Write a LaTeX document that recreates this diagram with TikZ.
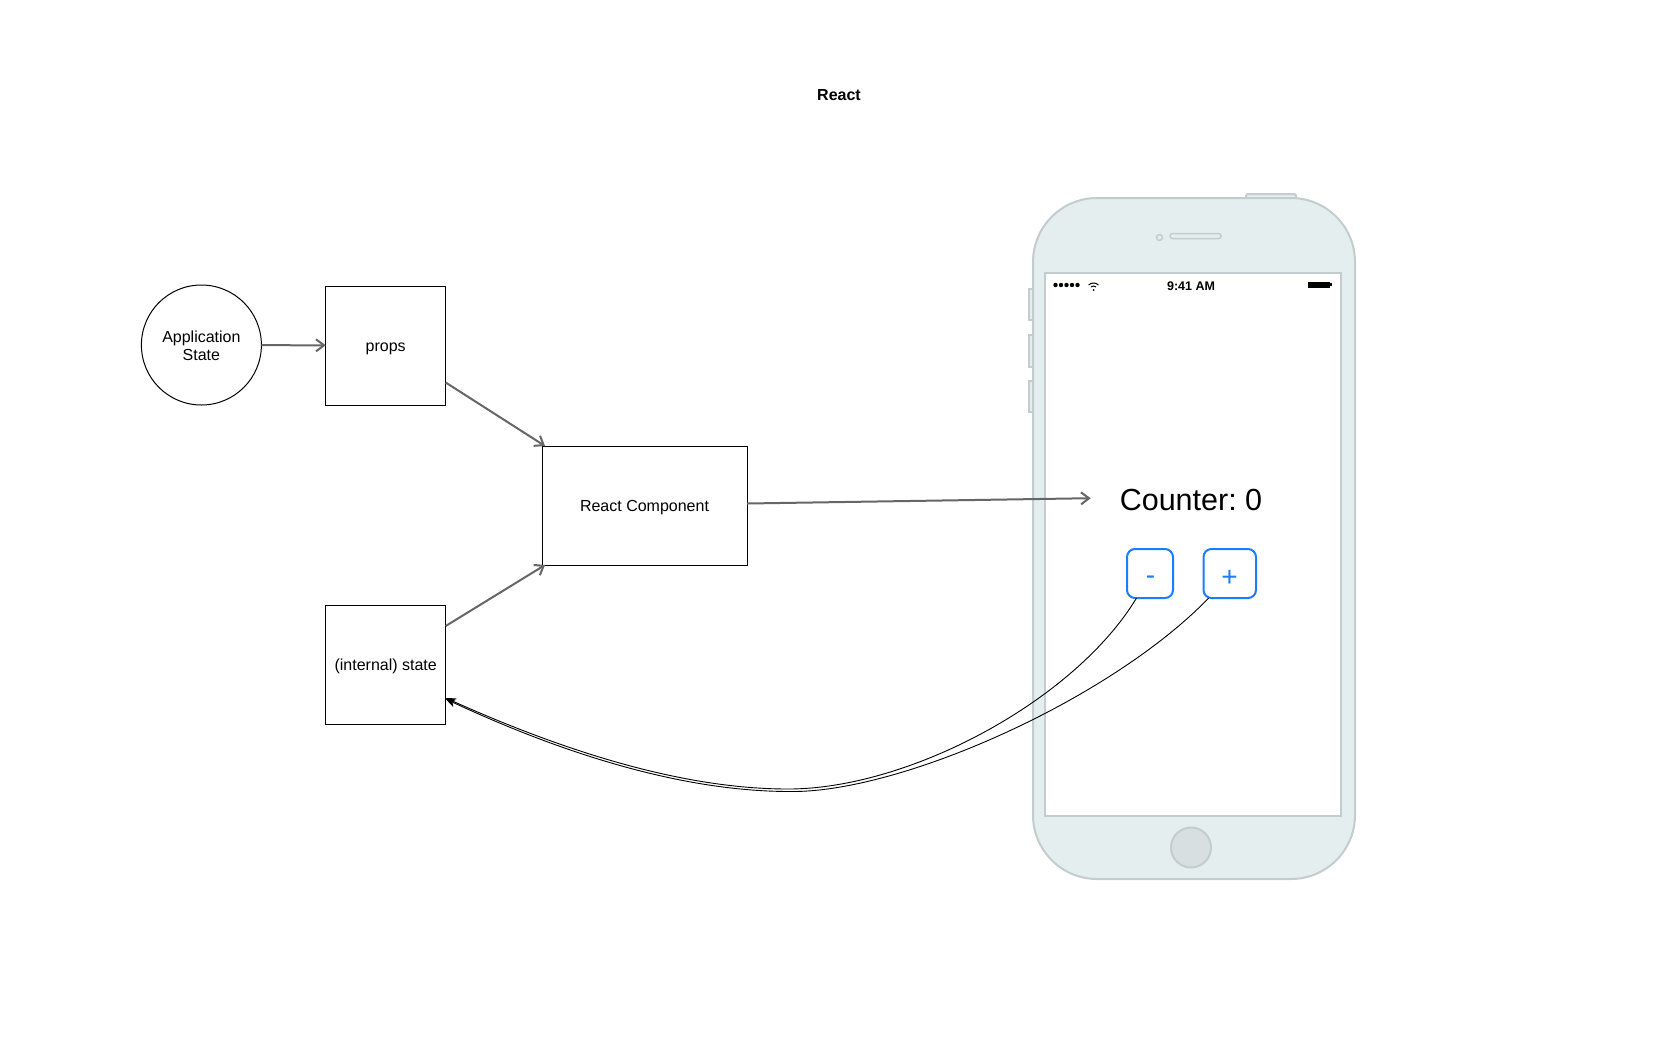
\documentclass[tikz,border=0pt]{standalone}
\usepackage{fontspec}
\setmainfont{Liberation Sans}
\usetikzlibrary{arrows.meta}
\definecolor{phonefill}{HTML}{E5EEEF}
\definecolor{phoneline}{HTML}{C3CDCE}
\definecolor{homefill}{HTML}{D8DFE0}
\definecolor{iosblue}{HTML}{1A7CFF}
\definecolor{arrowgray}{HTML}{666666}
\frenchspacing
\begin{document}
\begin{tikzpicture}[x=1pt,y=-1pt,
  lbl/.style={font=\fontsize{16}{18}\selectfont,align=center,inner sep=0pt,outer sep=0pt},
  boxnode/.style={lbl,draw=black,line width=1pt,minimum width=120pt,minimum height=119pt,text height=11.5pt,text depth=0pt},
  flow/.style={draw=arrowgray,line width=2pt,-{Straight Barb[length=8pt,width=12pt]}},
  back/.style={draw=black,line width=0.9pt,-{Stealth[length=10pt,width=8pt]}},
  iosbtn/.style={draw=iosblue,line width=2pt,rounded corners=8pt,inner sep=0pt,outer sep=0pt},
  ioslbl/.style={text=iosblue,inner sep=0pt,font=\fontsize{28}{28}\selectfont},
  phone/.style={fill=phonefill,draw=phoneline,line width=2pt}]
\useasboundingbox (0,0) rectangle (1680,1050);

% title
\node[lbl,font=\fontsize{16}{18}\selectfont\bfseries] (title) at (839,95.5) {React};

% phone body
\draw[phone,rounded corners=2pt] (1246,194) rectangle (1296,202);
\draw[phone] (1029,289) rectangle (1036,320);
\draw[phone] (1029,335) rectangle (1036,367);
\draw[phone] (1029,381) rectangle (1036,412);
\draw[phone,rounded corners=64pt] (1033,198) rectangle (1355,879);
\draw[fill=white,draw=phoneline,line width=2pt] (1045,273) rectangle (1341,815.5);
\draw[phone,line width=1.5pt,rounded corners=2.3pt] (1170,233.5) rectangle (1221,238.5);
\draw[phone,line width=1.5pt] (1159.5,237.5) circle (3);
\draw[fill=homefill,draw=phoneline,line width=2pt] (1191,847.5) circle (20);

% status bar
\foreach \x in {1055.5,1061,1066.5,1072,1077.5} \fill (\x,285) circle (2.2);
\draw[line width=1pt] (1093.5,290) ++(225:7) arc (225:315:7);
\draw[line width=1pt] (1093.5,290) ++(230:4) arc (230:310:4);
\fill (1093.5,290) circle (1);
\fill (1308,281.5) rectangle (1329.5,287.5);
\fill (1329.5,283) rectangle (1331.5,286);
\node[lbl,font=\fontsize{12.5}{14}\selectfont\bfseries] (clock) at (1191,286.5) {9:41 AM};

% screen content
\node[lbl,font=\fontsize{30.5}{34}\selectfont] (counter) at (1191,500) {Counter: 0};
\node[iosbtn,minimum width=46pt,minimum height=49pt] (minus) at (1150,573.5) {};
\node[iosbtn,minimum width=52.5pt,minimum height=49pt] (plus) at (1229.75,573.5) {};
\node[ioslbl] (minuslbl) at (1150.5,580) {-};
\node[ioslbl] (pluslbl) at (1229.5,578.8) {+};

% diagram
\node[lbl,draw=black,line width=1pt,circle,minimum size=120pt] (app) at (201.4,345) {\rule{0pt}{13pt}Application\\State};
\node[boxnode] (props) at (385.7,345.5) {props};
\node[boxnode,minimum width=205pt] (rc) at (644.5,505.5) {React Component};
\node[boxnode] (state) at (385.7,664.5) {(internal) state};
\coordinate (ctrin) at (1090.7,498.2);

\draw[flow] (app) -- (props);
\draw[flow] ([yshift=-37pt]props.east) -- ([xshift=3pt]rc.north west);
\draw[flow] ([yshift=-21pt]state.north east) -- ([xshift=3pt]rc.south west);
\draw[flow] ([yshift=2pt]rc.east) -- (ctrin);

\draw[back] ([xshift=9.5pt]minus.south west) .. controls (1075,700) and (910,789) .. (788,789)
  .. controls (668,789) and (539.5,740) .. ([yshift=26pt]state.south east);
\draw[back] ([xshift=5.2pt]plus.south west) .. controls (1110,700) and (900,793) .. (790,791.5)
  .. controls (668,791.5) and (540,743) .. ([yshift=25pt]state.south east);
\end{tikzpicture}
\end{document}
